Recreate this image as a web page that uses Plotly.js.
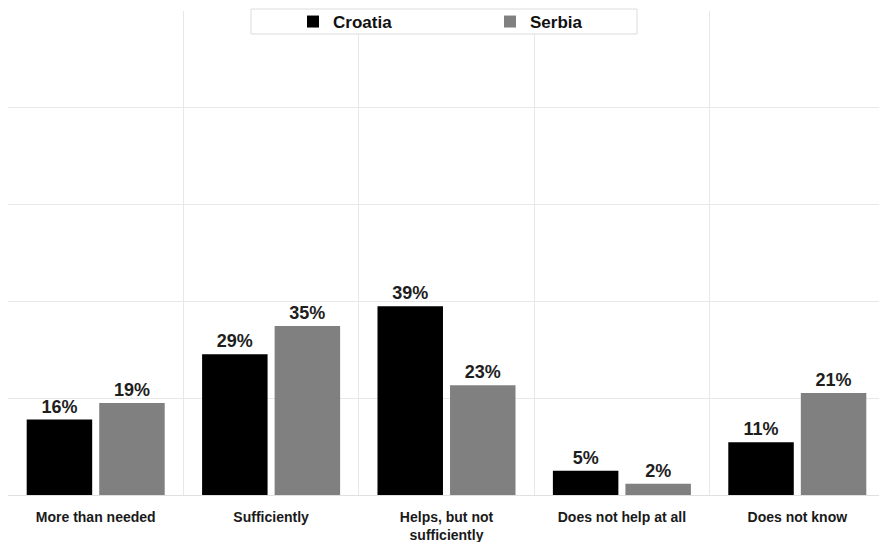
<!DOCTYPE html>
<html>
<head>
<meta charset="utf-8">
<script src="https://cdn.plot.ly/plotly-3.0.1.min.js"></script>
<style>
html, body { margin: 0; padding: 0; overflow: hidden; background: #fff; }
#chart { width: 886px; height: 542px; }
</style>
</head>
<body>
<div id="chart"></div>
<script>
const categories = ["More than needed", "Sufficiently", "Helps, but not<br>sufficiently", "Does not help at all", "Does not know"];
const croatia = [15.6, 29.1, 39.0, 5.0, 10.9];
const serbia = [19.0, 34.9, 22.7, 2.3, 21.1];
const seriesNames = ["Croatia", "Serbia"];
const seriesColors = ["#000000", "#808080"];
const yTicks = [0, 20, 40, 60, 80, 100];

const font = "'Liberation Sans', Arial, sans-serif";

const traces = [croatia, serbia].map((vals, i) => ({
  type: "bar",
  name: seriesNames[i],
  x: categories,
  y: vals,
  marker: { color: seriesColors[i] },
  text: vals.map(v => Math.round(v) + "%"),
  texttemplate: "<b>%{text}</b>",
  textposition: "outside",
  cliponaxis: false,
  textfont: { family: font, size: 18, color: "#1e1e1e" },
  hoverinfo: "skip"
}));

const layout = {
  width: 886,
  height: 542,
  margin: { l: 8, r: 1, t: 11, b: 47 },
  paper_bgcolor: "#ffffff",
  plot_bgcolor: "#ffffff",
  barmode: "group",
  bargap: 0.173,
  bargroupgap: 0.097,
  font: { family: font, color: "#1e1e1e" },
  xaxis: {
    type: "category",
    tickson: "boundaries",
    showgrid: true,
    gridcolor: "#e8e8e8",
    gridwidth: 1,
    ticks: "",
    showline: false,
    ticklabelstandoff: 12,
    tickfont: { family: font, size: 14, color: "#1a1a1a", weight: "bold" },
    range: [-0.5, 4.5],
    fixedrange: true
  },
  yaxis: {
    range: [0, 100],
    tickvals: yTicks,
    showticklabels: false,
    showgrid: true,
    gridcolor: "#e8e8e8",
    gridwidth: 1,
    zeroline: true,
    zerolinecolor: "#e0e0e0",
    zerolinewidth: 1,
    fixedrange: true
  },
  shapes: [{
    type: "rect",
    xref: "paper", yref: "paper",
    x0: 0.2771, x1: 0.7172, y0: 0.9525, y1: 1.0041,
    fillcolor: "#ffffff",
    line: { color: "#dcdcdc", width: 1 },
    layer: "above"
  }],
  showlegend: true,
  legend: {
    orientation: "h",
    x: 0.325,
    xanchor: "left",
    y: 1.0145,
    yanchor: "top",
    bgcolor: "rgba(0,0,0,0)",
    borderwidth: 0,
    font: { family: font, size: 17, color: "#111111", weight: "bold" },
    entrywidth: 152,
    entrywidthmode: "pixels",
    traceorder: "normal"
  }
};

Plotly.newPlot("chart", traces, layout, { displayModeBar: false, staticPlot: true });
</script>
</body>
</html>
